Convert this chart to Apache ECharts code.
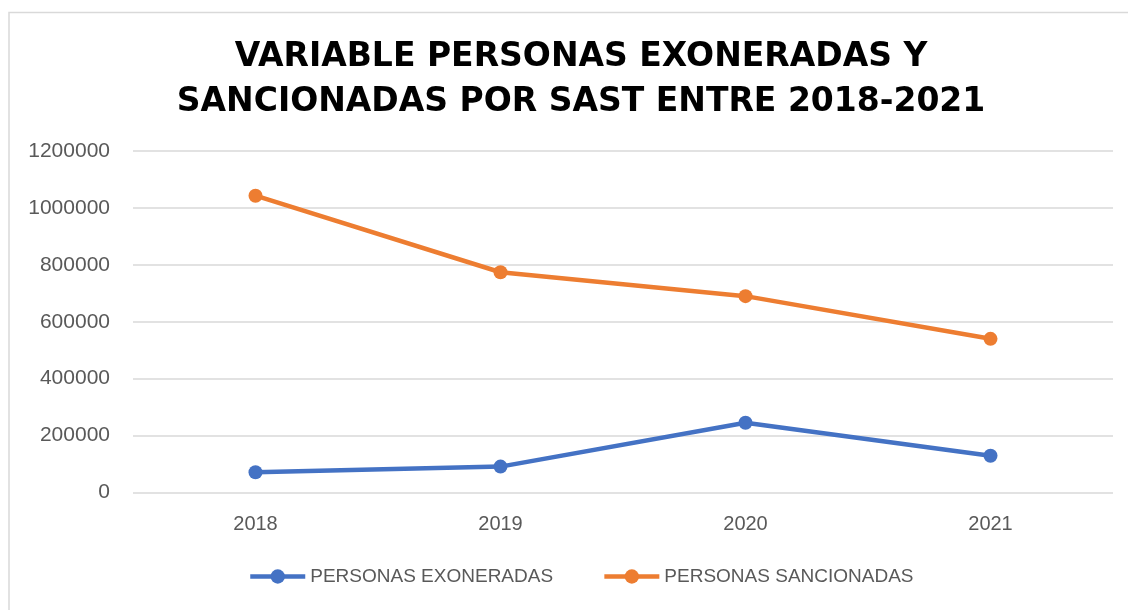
<!DOCTYPE html>
<html>
<head>
<meta charset="utf-8">
<script src="https://cdn.jsdelivr.net/npm/echarts@6/dist/echarts.min.js"></script>
<style>
html,body{margin:0;padding:0;background:#fff;}
#chart{width:1128px;height:610px;}
</style>
</head>
<body>
<div id="chart"></div>
<script>
const titleText = 'VARIABLE PERSONAS EXONERADAS Y\nSANCIONADAS POR SAST ENTRE 2018-2021';
const categories = ['2018', '2019', '2020', '2021'];
const seriesNames = ['PERSONAS EXONERADAS', 'PERSONAS SANCIONADAS'];
const exoneradas = [71000, 91000, 245000, 129000];
const sancionadas = [1043000, 774000, 690000, 540000];
const yTicks = [0, 200000, 400000, 600000, 800000, 1000000, 1200000];

const chart = echarts.init(document.getElementById('chart'), null, {renderer: 'canvas'});
const labelFont = 'Liberation Sans, Arial, sans-serif';
chart.setOption({
  animation: false,
  backgroundColor: '#ffffff',
  graphic: [{
    type: 'rect',
    shape: {x: 9, y: 12.5, width: 1300, height: 800},
    style: {fill: 'none', stroke: '#d9d9d9', lineWidth: 1.5},
    silent: true,
    z: -1
  }],
  title: {
    text: titleText,
    left: 576,
    top: 30,
    textAlign: 'center',
    textStyle: {
      fontFamily: 'DejaVu Sans, sans-serif',
      fontWeight: 'bold',
      fontSize: 33,
      lineHeight: 45,
      color: '#000000'
    }
  },
  legend: {
    left: 248,
    top: 567,
    padding: 0,
    itemWidth: 55,
    itemHeight: 18,
    itemGap: 49,
    lineStyle: {width: 4.5},
    textStyle: {fontFamily: labelFont, fontSize: 19, color: '#595959'},
    data: seriesNames
  },
  grid: {left: 133, right: 15, top: 151, bottom: 117.5, containLabel: false},
  xAxis: {
    type: 'category',
    data: categories,
    boundaryGap: true,
    axisLine: {show: false},
    axisTick: {show: false},
    axisLabel: {fontFamily: labelFont, fontSize: 20, color: '#595959', margin: 22}
  },
  yAxis: {
    type: 'value',
    min: yTicks[0],
    max: yTicks[yTicks.length - 1],
    interval: yTicks[1] - yTicks[0],
    axisLine: {show: false},
    axisTick: {show: false},
    axisLabel: {fontFamily: labelFont, fontSize: 21, color: '#595959', margin: 23,
      formatter: function (v) { return String(v); }},
    splitLine: {lineStyle: {color: '#d9d9d9', width: 1.5}}
  },
  series: [
    {
      name: seriesNames[0],
      type: 'line',
      data: exoneradas,
      color: '#4472C4',
      symbol: 'circle',
      symbolSize: 14,
      lineStyle: {width: 4.5, color: '#4472C4'},
      itemStyle: {color: '#4472C4'}
    },
    {
      name: seriesNames[1],
      type: 'line',
      data: sancionadas,
      color: '#ED7D31',
      symbol: 'circle',
      symbolSize: 14,
      lineStyle: {width: 4.5, color: '#ED7D31'},
      itemStyle: {color: '#ED7D31'}
    }
  ]
});
</script>
</body>
</html>
